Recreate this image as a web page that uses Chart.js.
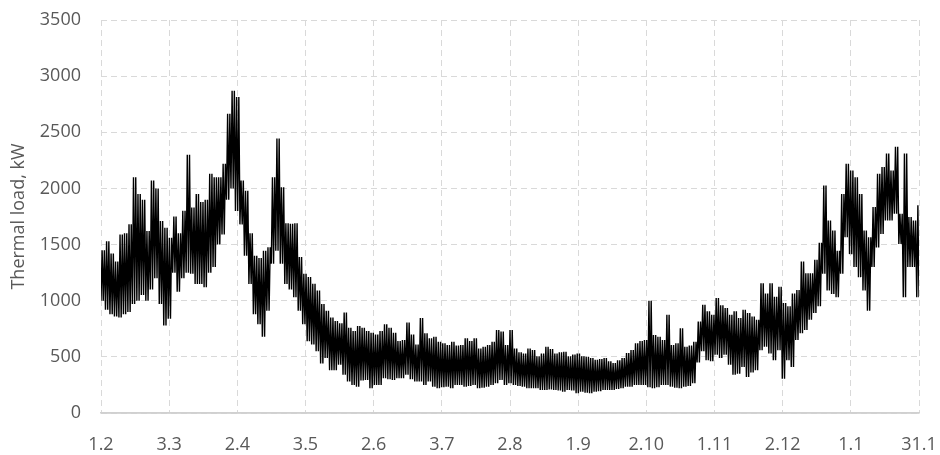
<!DOCTYPE html>
<html>
<head>
<meta charset="utf-8">
<script src="https://cdn.jsdelivr.net/npm/chart.js@4.4.0/dist/chart.umd.min.js"></script>
<style>
  html, body { margin: 0; padding: 0; background: #ffffff; }
  #wrap { width: 940px; height: 455px; position: relative; }
</style>
</head>
<body>
<div id="wrap"><canvas id="c" width="940" height="455"></canvas></div>
<script>
// X-axis tick labels (day.month), one every 1/12 of the year
const tickLabels = ['1.2','3.3','2.4','3.5','2.6','3.7','2.8','1.9','2.10','1.11','2.12','1.1','31.1'];

// Sample step (days) of the envelope readings below
const sampleStepDays = 2;

// Upper envelope of the hourly thermal load (kW), read every 2 days from 1 Feb
const loadHigh = [
  1450,1530,1420,1350,1590,1600,1680,2100,1950,1900,
  1620,2070,2000,1710,1650,1560,1750,1600,1800,2300,
  1830,1950,1880,1900,2130,2100,2100,2220,2665,2870,
  2815,2070,1980,1600,1400,1380,1445,1475,2100,2445,
  2010,1690,1685,1690,1390,1240,1210,1150,1090,970,
  910,850,820,800,895,760,730,775,760,730,
  715,700,730,790,760,715,640,650,805,700,
  610,845,710,665,680,635,620,605,635,600,
  605,665,640,665,575,590,605,635,740,725,
  605,740,575,540,530,575,560,505,530,590,
  570,530,540,545,505,520,530,505,500,490,
  475,480,490,460,445,470,490,535,560,620,
  640,650,1000,695,680,650,875,605,620,755,
  590,600,635,815,965,905,875,1025,960,935,
  875,905,845,920,890,860,830,1155,1065,1155,
  1035,1125,980,950,1065,1095,1350,1245,1245,1365,
  1515,2025,1715,1625,1445,1950,2220,2160,2100,1950,
  1625,1565,1835,2130,2190,2310,2160,2370,1775,2310,
  1745,1715,1850
];

// Lower envelope of the hourly thermal load (kW), read every 2 days from 1 Feb
const loadLow = [
  1000,920,880,860,850,880,900,970,1000,1050,
  1000,1100,1200,970,780,840,1250,1080,1200,1250,
  1240,1150,1150,1120,1250,1300,1500,1590,1900,2000,
  1800,1680,1400,1150,880,790,680,910,1330,1445,
  1330,1150,1100,1030,910,790,640,610,550,440,
  490,380,380,430,340,280,250,235,290,295,
  220,250,250,310,300,295,310,310,340,300,
  280,280,250,280,235,220,230,235,220,250,
  250,235,240,250,220,225,235,250,265,295,
  250,265,250,240,235,220,220,220,205,205,
  210,205,200,190,205,200,175,190,180,175,
  190,195,205,205,205,215,220,235,235,250,
  250,250,230,220,230,250,250,235,225,220,
  235,240,265,450,550,470,460,520,490,520,
  430,340,350,410,320,360,380,560,590,530,
  470,560,305,470,410,650,710,740,830,890,
  950,1240,1090,1060,1030,1240,1565,1415,1300,1210,
  1090,910,1300,1475,1595,1715,1715,1775,1505,1030,
  1300,1300,1030
];

// Build the trace: within each sample window the load swings between its read low and high every day
const points = [];
loadHigh.forEach((hi, i) => {
  const d = i * sampleStepDays;
  const lo = loadLow[i];
  for (let k = 0; k < sampleStepDays; k++) {
    points.push({ x: d + k, y: lo });
    points.push({ x: d + k + 0.5, y: hi });
  }
});
points.push({ x: loadHigh.length * sampleStepDays, y: loadLow[loadLow.length - 1] });

const yearDays = 365;
const tickStep = yearDays / (tickLabels.length - 1);
const textColor = '#595959';
const gridColor = '#d9d9d9';
const fontFamily = "'Open Sans', 'Liberation Sans', sans-serif";

new Chart(document.getElementById('c'), {
  type: 'line',
  data: {
    datasets: [{
      data: points,
      borderColor: '#000000',
      borderWidth: 1.4,
      pointRadius: 0,
      tension: 0,
      fill: false
    }]
  },
  options: {
    responsive: false,
    animation: false,
    events: [],
    layout: { padding: { left: 8, right: 21, top: 20, bottom: 0 } },
    plugins: { legend: { display: false }, tooltip: { enabled: false } },
    scales: {
      x: {
        type: 'linear',
        min: 0,
        max: yearDays,
        afterBuildTicks: (scale) => {
          scale.ticks = tickLabels.map((_, i) => ({ value: i * tickStep }));
        },
        afterFit: (scale) => {
          scale.height = 42;
          scale.paddingLeft = 0;
          scale.paddingRight = 0;
        },
        ticks: {
          autoSkip: false,
          maxRotation: 0,
          padding: 21,
          color: textColor,
          font: { family: fontFamily, size: 18 },
          callback: (v, i) => tickLabels[i]
        },
        grid: {
          color: gridColor,
          lineWidth: 1,
          drawTicks: false
        },
        border: { display: true, color: '#d0d0d0', width: 1.5, dash: [6, 4] }
      },
      y: {
        min: 0,
        max: 3500,
        afterFit: (scale) => {
          scale.width = 93;
          scale.paddingTop = 0;
          scale.paddingBottom = 0;
        },
        ticks: {
          stepSize: 500,
          padding: 20,
          color: textColor,
          font: { family: fontFamily, size: 18 },
          callback: (v) => String(v)
        },
        grid: {
          color: gridColor,
          lineWidth: 1,
          drawTicks: false
        },
        border: { display: false, dash: [6, 4] },
        title: {
          display: true,
          text: 'Thermal load, kW',
          color: textColor,
          font: { family: fontFamily, size: 18 },
          padding: { top: 0, bottom: 0 }
        }
      }
    }
  },
  plugins: [{
    id: 'solidBaseline',
    afterDraw(chart) {
      const { ctx, chartArea } = chart;
      ctx.save();
      ctx.strokeStyle = '#d0d0d0';
      ctx.lineWidth = 1.5;
      ctx.beginPath();
      ctx.moveTo(chartArea.left, chart.scales.y.getPixelForValue(0));
      ctx.lineTo(chartArea.right, chart.scales.y.getPixelForValue(0));
      ctx.stroke();
      ctx.restore();
    }
  }]
});
</script>
</body>
</html>
